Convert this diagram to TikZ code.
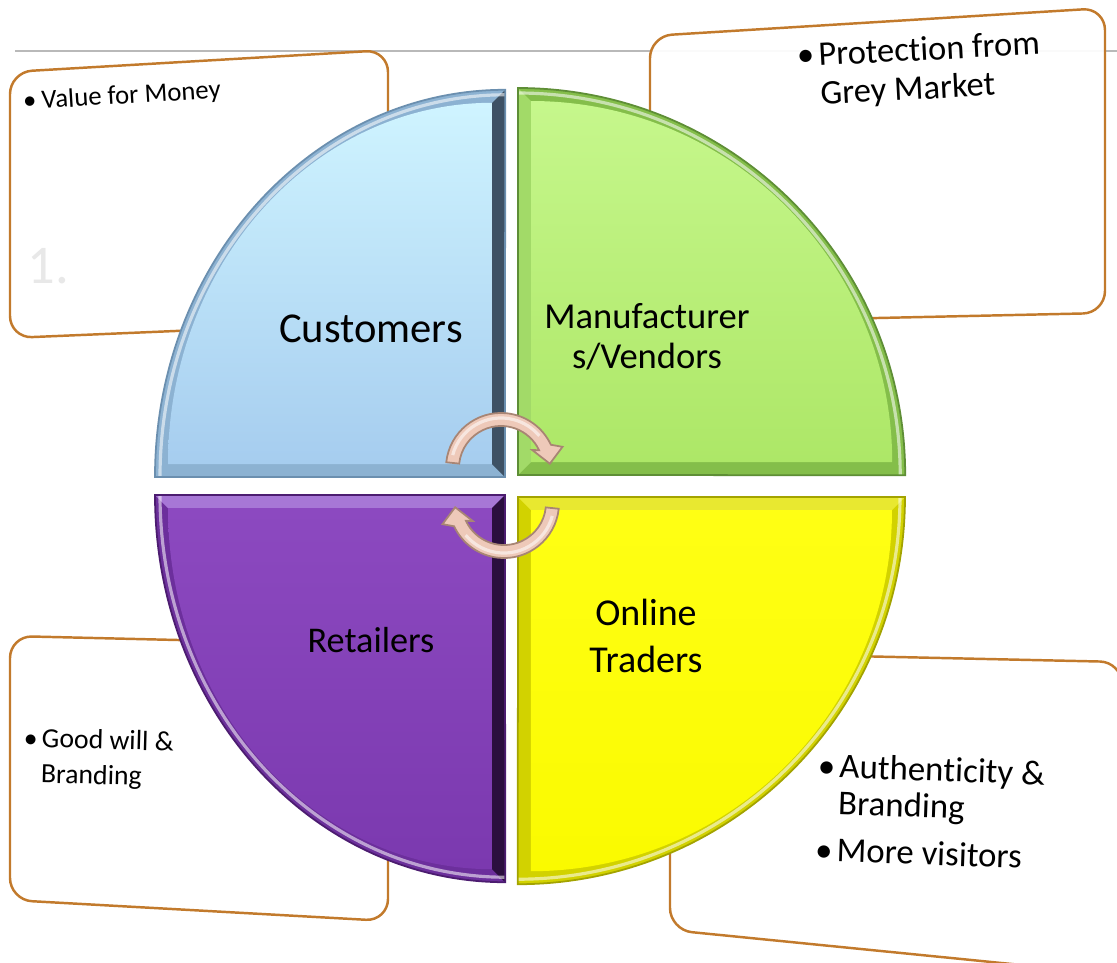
\documentclass[tikz,border=0pt]{standalone}
\usepackage{fontspec}
\setmainfont{Carlito}[Ligatures={NoCommon,NoContextual}]
\usetikzlibrary{calc}
\definecolor{boxedge}{HTML}{C27A2C}
\definecolor{custbevel}{HTML}{8CB2D2}
\definecolor{custdark}{HTML}{3E5164}
\definecolor{custtop}{HTML}{CFF4FF}
\definecolor{custbot}{HTML}{A6CDEF}
\definecolor{custline}{HTML}{6B8FAF}
\definecolor{manbevel}{HTML}{84BE4A}
\definecolor{manlight}{HTML}{A2DA68}
\definecolor{mantop}{HTML}{C6F78C}
\definecolor{manbot}{HTML}{ADE767}
\definecolor{manline}{HTML}{5E8E36}
\definecolor{retbevel}{HTML}{6C2F9C}
\definecolor{retlight}{HTML}{A777D6}
\definecolor{retdark}{HTML}{2B0F3E}
\definecolor{rettop}{HTML}{8C49C0}
\definecolor{retbot}{HTML}{7B39AF}
\definecolor{retline}{HTML}{4C1C70}
\definecolor{onbevel}{HTML}{D2D200}
\definecolor{onlight}{HTML}{E8E830}
\definecolor{ontop}{HTML}{FFFF14}
\definecolor{onbot}{HTML}{FAFA00}
\definecolor{onedge}{HTML}{A3A300}
\definecolor{arrowfill}{HTML}{EEC9B9}
\definecolor{arrowedge}{HTML}{A88574}
\tikzset{
  infobox/.style={draw=boxedge, line width=0.7pt, fill=white, fill opacity=0.93, rounded corners=0.22cm},
  cyclearrow/.style={fill=arrowfill, draw=arrowedge, line width=0.5pt},
  glint/.style={white, opacity=0.55, line width=0.9pt},
  quadlabel/.style={inner sep=0pt, text=black},
  boxtext/.style={inner sep=0pt, text=black}
}
\begin{document}
\begin{tikzpicture}[x=0.01cm,y=-0.01cm]
\useasboundingbox (0,0) rectangle (1117,963);
\fill[white] (0,0) rectangle (1117,963);
% thin rule
\draw[gray!55, line width=0.5pt] (15,51) -- (1117,51);
% text boxes
\path[infobox] (10,72) -- (388,50) -- (388,322) -- (10,338) -- cycle;
\path[infobox] (650,36) -- (1105,8) -- (1105,313) -- (650,323) -- cycle;
\path[infobox] (10,636) -- (388,645) -- (388,921) -- (10,900) -- cycle;
\path[infobox] (670,652) -- (1122,662) -- (1122,975) -- (670,930) -- cycle;

% Customers quadrant
\fill[custbevel] (505,477) -- (155,477) arc[start angle=180,end angle=90,x radius=3.5cm,y radius=3.87cm] -- cycle;
\fill[custdark] (492,103) -- (505,90) -- (505,477) -- (492,464) -- cycle;
\shade[top color=custtop, bottom color=custbot] (492,464) -- (168,464) arc[start angle=180,end angle=90,x radius=3.24cm,y radius=3.61cm] -- cycle;
\draw[glint] (160,477) arc[start angle=180,end angle=90,x radius=3.45cm,y radius=3.82cm];
\draw[custline, line width=0.5pt] (505,477) -- (155,477) arc[start angle=180,end angle=90,x radius=3.5cm,y radius=3.87cm] -- cycle;

% Manufacturers quadrant
\fill[manbevel] (518,475) -- (518,88) arc[start angle=90,end angle=0,radius=3.87cm] -- cycle;
\fill[manlight] (518,88) -- (531,101) -- (531,462) -- (518,475) -- cycle;
\shade[top color=mantop, bottom color=manbot] (531,462) -- (531,101) arc[start angle=90,end angle=0,radius=3.61cm] -- cycle;
\draw[glint] (518,93) arc[start angle=90,end angle=0,radius=3.82cm];
\draw[manline, line width=0.5pt] (518,475) -- (518,88) arc[start angle=90,end angle=0,radius=3.87cm] -- cycle;

% Retailers quadrant
\fill[retbevel] (505,495) -- (155,495) arc[start angle=180,end angle=270,x radius=3.5cm,y radius=3.87cm] -- cycle;
\fill[retlight] (155,495) -- (505,495) -- (492,508) -- (168,508) -- cycle;
\fill[retdark] (492,508) -- (505,495) -- (505,882) -- (492,869) -- cycle;
\shade[top color=rettop, bottom color=retbot] (492,508) -- (168,508) arc[start angle=180,end angle=270,x radius=3.24cm,y radius=3.61cm] -- cycle;
\draw[glint] (160,495) arc[start angle=180,end angle=270,x radius=3.45cm,y radius=3.82cm];
\draw[retline, line width=0.5pt] (505,495) -- (155,495) arc[start angle=180,end angle=270,x radius=3.5cm,y radius=3.87cm] -- cycle;

% Online traders quadrant
\fill[onbevel] (518,497) -- (905,497) arc[start angle=0,end angle=-90,radius=3.87cm] -- cycle;
\fill[onlight] (518,497) -- (905,497) -- (892,510) -- (531,510) -- cycle;
\shade[top color=ontop, bottom color=onbot] (531,510) -- (892,510) arc[start angle=0,end angle=-90,radius=3.61cm] -- cycle;
\draw[glint] (900,497) arc[start angle=0,end angle=-90,radius=3.82cm];
\draw[onedge, line width=0.5pt] (518,497) -- (905,497) arc[start angle=0,end angle=-90,radius=3.87cm] -- cycle;

% cycle arrows
\coordinate (C1) at (501,468);
\coordinate (C2) at (504,503);
\path[cyclearrow] ($(C1)+(174:0.42cm)$) -- ($(C1)+(174:0.55cm)$) arc[start angle=174,end angle=25,radius=0.55cm]
  -- ($(C1)+(19:0.65cm)$) -- ($(C1)+(5:0.49cm)$) -- ($(C1)+(30:0.36cm)$) -- ($(C1)+(25:0.42cm)$)
  arc[start angle=25,end angle=174,radius=0.42cm] -- cycle;
\draw[glint] ($(C1)+(165:0.5cm)$) arc[start angle=165,end angle=40,radius=0.5cm];
\path[cyclearrow] ($(C2)+(354:0.42cm)$) -- ($(C2)+(354:0.55cm)$) arc[start angle=354,end angle=205,radius=0.55cm]
  -- ($(C2)+(199:0.65cm)$) -- ($(C2)+(185:0.49cm)$) -- ($(C2)+(210:0.36cm)$) -- ($(C2)+(205:0.42cm)$)
  arc[start angle=205,end angle=354,radius=0.42cm] -- cycle;
\draw[glint] ($(C2)+(345:0.5cm)$) arc[start angle=345,end angle=220,radius=0.5cm];

% quadrant labels
\node[quadlabel, anchor=base, font=\fontsize{12.1pt}{13pt}\selectfont] (cust) at (371,342) {Customers};
\node[quadlabel, anchor=base, font=\fontsize{10.4pt}{11.4pt}\selectfont] (manu) at (647,328)
  {\begin{tabular}[t]{@{}c@{}}Manufacturer\\s/Vendors\end{tabular}};
\node[quadlabel, anchor=base, font=\fontsize{10.3pt}{11pt}\selectfont] (ret) at (371,652) {Retailers};
\node[quadlabel, anchor=base, font=\fontsize{10.8pt}{13.4pt}\selectfont] (onl) at (646,625)
  {\begin{tabular}[t]{@{}c@{}}Online\\Traders\end{tabular}};

% box texts
\node[boxtext, anchor=base west, rotate=3.5, font=\fontsize{7.6pt}{9pt}\selectfont] (vfm) at (23,110)
  {\begin{tabular}[t]{@{}l@{\hspace{1.5pt}}l@{}}\textbullet & Value for Money\end{tabular}};
\node[boxtext, anchor=base west, text=black!9, font=\fontsize{15.5pt}{16pt}\selectfont] (one) at (27,283) {1.};
\node[boxtext, anchor=base west, rotate=3, font=\fontsize{9.8pt}{11pt}\selectfont] (grey) at (797,67)
  {\begin{tabular}[t]{@{}l@{\hspace{1.2pt}}l@{}}\textbullet & Protec\kern0pt tion from\\ & Grey Market\end{tabular}};
\node[boxtext, anchor=base west, rotate=-1.5, font=\fontsize{7.9pt}{10pt}\selectfont] (good) at (23,747)
  {\begin{tabular}[t]{@{}l@{\hspace{1.2pt}}l@{}}\textbullet & Good will \&\\ & Branding\end{tabular}};
\node[boxtext, anchor=base west, rotate=-2, font=\fontsize{9.9pt}{10.5pt}\selectfont] (auth) at (817,777)
  {\begin{tabular}[t]{@{}l@{\hspace{1.2pt}}l@{}}\textbullet & Authen\kern0pt ticity \&\\ & Branding\\[2.9pt] \textbullet & More visitors\end{tabular}};
\end{tikzpicture}
\end{document}
